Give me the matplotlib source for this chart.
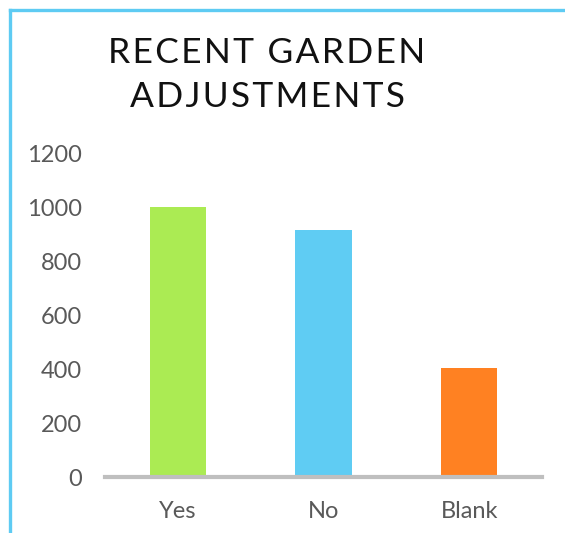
import matplotlib
matplotlib.use("Agg")
import matplotlib.pyplot as plt
from matplotlib.lines import Line2D

categories = ["Yes", "No", "Blank"]
values = [1000, 915, 404]
colors = ["#abeb53", "#5fccf3", "#ff8122"]
yticks = [0, 200, 400, 600, 800, 1000, 1200]
title_lines = ["RECENT GARDEN", "ADJUSTMENTS"]

plt.rcParams["font.family"] = ["Lato", "DejaVu Sans"]

fig = plt.figure(figsize=(5.65, 5.33), dpi=100)
ax = fig.add_axes([105 / 565, 1 - 477 / 533, 437 / 565, 324 / 533])

ax.bar(range(len(categories)), values, width=0.385, color=colors, zorder=2)
ax.set_xlim(-0.5, 2.5)
ax.set_ylim(0, 1200)
ax.set_yticks(yticks)
ax.set_xticks(range(len(categories)))
ax.set_xticklabels(categories)

for s in ["top", "right", "left"]:
    ax.spines[s].set_visible(False)
ax.spines["bottom"].set_color("#bfbfbf")
ax.spines["bottom"].set_linewidth(3)
ax.tick_params(axis="both", length=0, labelsize=17, colors="#595959")
ax.tick_params(axis="y", pad=16.5)
ax.tick_params(axis="x", pad=17)

# letter-spaced title
sp = "\u200a"
for i, line in enumerate(title_lines):
    txt = sp.join(line)
    fig.text(267 / 565, 1 - (53 + 44 * i) / 533, txt, ha="center", va="center",
             fontsize=25.5, color="#111111")

# light blue frame on left and top
fig.add_artist(Line2D([10 / 565, 10 / 565], [0, 1 - 10 / 533], color="#5ecbf3", lw=2.4,
                      transform=fig.transFigure))
fig.add_artist(Line2D([10 / 565, 1], [1 - 10 / 533, 1 - 10 / 533], color="#5ecbf3", lw=2.4,
                      transform=fig.transFigure))

fig.savefig("out.png", dpi=100)
